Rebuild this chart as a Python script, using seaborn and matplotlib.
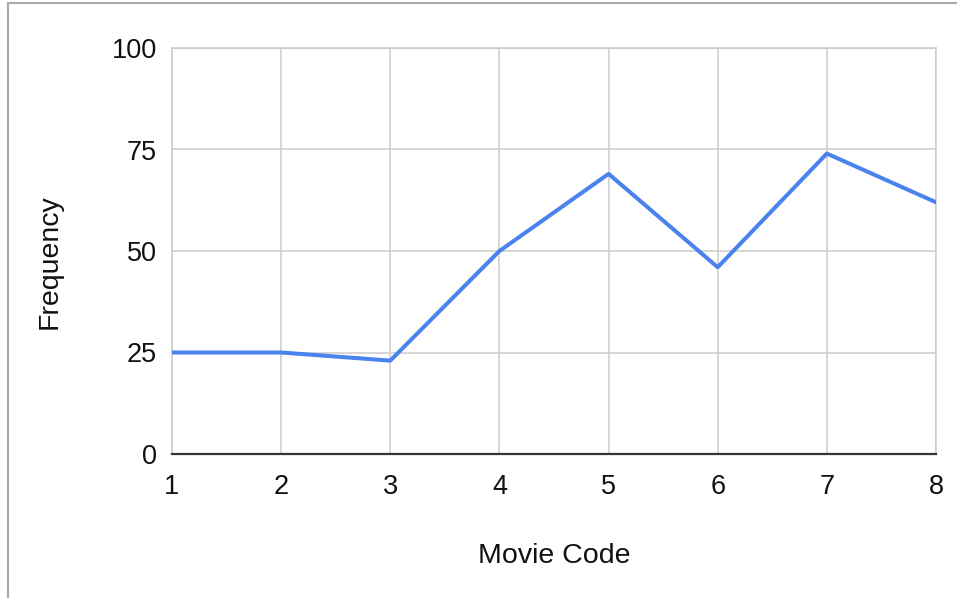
import matplotlib
matplotlib.use("Agg")
import matplotlib.pyplot as plt
from matplotlib.lines import Line2D
import pandas as pd
import seaborn as sns

# Frequency of each movie code
movie_code = [1, 2, 3, 4, 5, 6, 7, 8]
frequency = [25, 25, 23, 50, 69, 46, 74, 62]
y_ticks = [0, 25, 50, 75, 100]

df = pd.DataFrame({"Movie Code": movie_code, "Frequency": frequency})

sns.set_theme(style="white")
plt.rcParams["font.family"] = ["Liberation Sans", "DejaVu Sans"]

grid_color = "#cccccc"
line_color = "#4a82ee"
text_color = "#111111"

fig = plt.figure(figsize=(9.57, 5.98), dpi=100)
fig.patch.set_facecolor("white")
ax = fig.add_axes([172 / 957, 1 - 454 / 598, (936 - 172) / 957, (454 - 48) / 598])

sns.lineplot(data=df, x="Movie Code", y="Frequency", ax=ax,
             color=line_color, linewidth=2.9, zorder=3)

ax.set_xlim(1, 8)
ax.set_ylim(0, 100)
ax.set_xticks(movie_code)
ax.set_yticks(y_ticks)
ax.grid(True, color=grid_color, linewidth=1.1, zorder=0)
ax.set_axisbelow(True)

for side in ("left", "top", "right"):
    ax.spines[side].set_color(grid_color)
    ax.spines[side].set_linewidth(1.1)
ax.spines["bottom"].set_color("#333333")
ax.spines["bottom"].set_linewidth(1.6)

ax.tick_params(axis="both", length=0, labelsize=19.5, colors=text_color)
ax.tick_params(axis="x", pad=14.5)
ax.tick_params(axis="y", pad=11)

ax.set_xlabel("Movie Code", fontsize=20.5, color=text_color)
ax.set_ylabel("Frequency", fontsize=20.5, color=text_color)
ax.xaxis.set_label_coords(0.5, -0.218)
ax.yaxis.set_label_coords(-0.143, 0.473)

# light frame lines along the top and left edges of the image
fig.add_artist(Line2D([8 / 957, 1], [1 - 3 / 598, 1 - 3 / 598],
                      transform=fig.transFigure, color="#aaaaaa", linewidth=1.5))
fig.add_artist(Line2D([8 / 957, 8 / 957], [0, 1 - 3 / 598],
                      transform=fig.transFigure, color="#aaaaaa", linewidth=1.5))

fig.savefig("out.png", dpi=100, facecolor="white")
